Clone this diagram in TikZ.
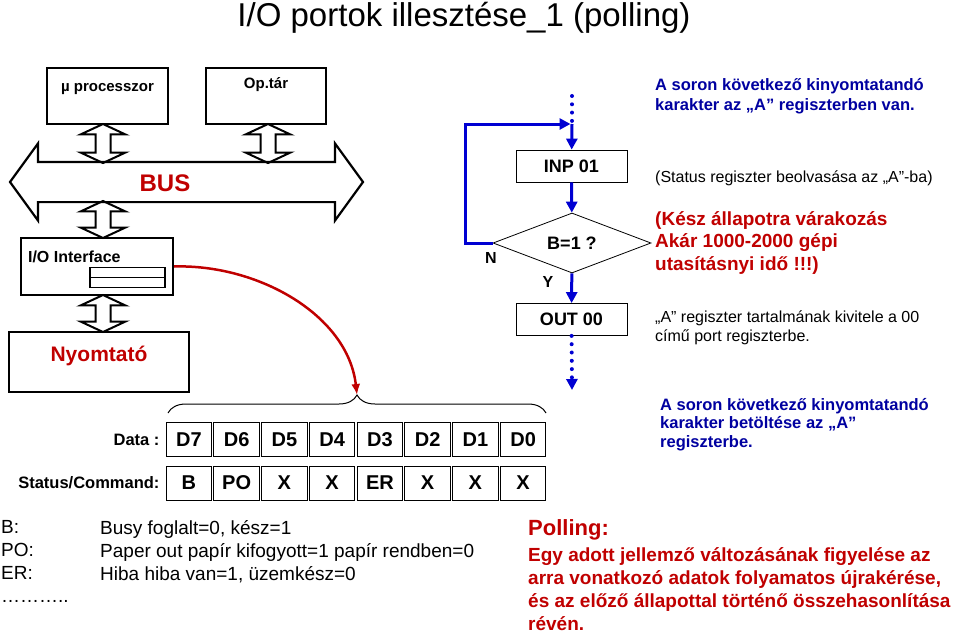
\documentclass[tikz,border=0pt]{standalone}
\usepackage{fontspec}
\setmainfont{Liberation Sans}
\usetikzlibrary{arrows.meta, positioning, shapes.geometric, shapes.arrows, decorations.pathreplacing}
\definecolor{hred}{RGB}{192,0,0}
\definecolor{hblue}{RGB}{0,0,160}
\definecolor{lblue}{RGB}{0,0,210}
\newcommand{\fs}[2]{\fontsize{#1}{#2}\selectfont}

\begin{document}
\begin{tikzpicture}[x=1pt, y=-1pt, >=Latex, font=\fs{16}{19}]
\tikzstyle{bx}=[draw, line width=2.2pt, inner sep=0pt]
\tikzstyle{lbl}=[inner sep=0pt, font=\bfseries\fs{15}{15}]
\tikzstyle{vdarr}=[double arrow, draw, line width=2pt, rotate=90, inner xsep=0pt, inner ysep=6.5pt, double arrow tip angle=130, double arrow head extend=15pt]
\tikzstyle{cell}=[draw, line width=1pt, minimum width=45.5pt, minimum height=34pt, inner sep=0pt, font=\bfseries\fs{20}{20}]
\tikzstyle{fbox}=[draw, line width=0.8pt, minimum width=111pt, minimum height=32pt, inner sep=0pt, font=\bfseries\fs{18}{18}]
\tikzstyle{flow}=[draw=lblue, line width=3pt, -{Triangle[width=11pt,length=11pt]}]
\tikzstyle{dots}=[draw=lblue, line width=4pt, line cap=round, dash pattern=on 0pt off 8.3pt]
\tikzstyle{txt}=[anchor=north west, align=left, inner sep=0pt]

\useasboundingbox (0,0) rectangle (959,637);

\node[anchor=north, inner sep=0pt, font=\fs{33}{33}] (title) at (464,2) {I/O portok illesztése\_1 (polling)};

% boxes on the bus
\node[bx, minimum width=121pt, minimum height=56pt, label={[lbl, anchor=north, yshift=-16pt]north:µ processzor}] (proc) at (107.5,96) {};
\node[bx, minimum width=120pt, minimum height=56pt, label={[lbl, anchor=north, yshift=-10pt]north:Op.tár}] (mem) at (266,96) {};

\node[double arrow, draw, line width=2.2pt, inner xsep=0pt, inner ysep=19pt, double arrow tip angle=108, double arrow head extend=18.5pt, minimum height=353pt] (bus) at (186.5,182) {};
\node[font=\bfseries\fs{24}{24}, text=hred] (buslbl) at (165,183) {BUS};

\node[vdarr, minimum height=39pt] (pa) at (103,143.5) {};
\node[vdarr, minimum height=39pt] (ma) at (268,143.5) {};
\node[vdarr, minimum height=37pt] (ia) at (103,219.5) {};
\node[vdarr, minimum height=37pt] (na) at (103,313.5) {};

\node[bx, minimum width=152pt, minimum height=57pt, label={[lbl, font=\bfseries\fs{16}{16}, anchor=north west, xshift=8pt, yshift=-14pt]north west:I/O Interface}] (io) at (97,266.5) {};
\node[draw, line width=1.3pt, minimum width=75pt, minimum height=10pt, inner sep=0pt, outer sep=0pt] (reg) at (127.5,272.5) {};
\node[draw, line width=1.3pt, minimum width=75pt, minimum height=10pt, inner sep=0pt, outer sep=0pt] (reg2) at (127.5,282.5) {};

\node[bx, minimum width=180pt, minimum height=60pt, label={[lbl, font=\bfseries\fs{21}{21}, text=hred, anchor=north, yshift=-15pt]north:Nyomtató}] (prn) at (99,362) {};

% register bits
\node[anchor=east, font=\bfseries\fs{16.5}{16.5}] (datalbl) at (163,439.5) {Data :};
\node[anchor=east, font=\bfseries\fs{16.5}{16.5}] (statlbl) at (163,483) {Status/Command:};
\foreach \t [count=\i] in {D7,D6,D5,D4,D3,D2,D1,D0}
  \node[cell] (d\i) at (141.15+\i*47.75,439.5) {\t};
\foreach \t [count=\i] in {B,PO,X,X,ER,X,X,X}
  \node[cell] (s\i) at (141.15+\i*47.75,483) {\t};

\coordinate (bl) at (168,413);
\coordinate (br) at (546,413);
\coordinate (btip) at (357,395);
\draw[decorate, decoration={brace, amplitude=18pt}, line width=1pt] (bl) -- (br);
\draw[hred, line width=2.5pt, -{Latex[length=11pt,width=9pt]}] (io.east) .. controls (258,264) and (348,315) .. (btip);

% flowchart
\coordinate (top) at (572,96);
\coordinate (join) at (572,124);
\coordinate (end) at (572,390);
\node[fbox] (inp) at (571.5,166) {INP 01};
\node[diamond, draw, line width=0.8pt, minimum width=158pt, minimum height=60pt, aspect=2.6, inner sep=0pt, font=\bfseries\fs{18}{18}] (dec) at (572,243) {B=1 ?};
\node[fbox] (out) at (571.5,319.5) {OUT 00};
\node[font=\bfseries\fs{16}{16}] (nlbl) at (491,258) {N};
\node[font=\bfseries\fs{16}{16}] (ylbl) at (548,282) {Y};

\draw[dots] (top) -- (join);
\draw[flow] (join) -- (inp);
\draw[flow] (inp) -- (dec);
\draw[flow] (dec) -- (out);
\draw[flow, shorten >=1.5pt] (dec.west) -- ++(-27,0) |- (join);
\draw[dots, -{Triangle[width=11pt,length=11pt]}] (out) -- (end);

% notes on the right
\node[txt, text=hblue, font=\bfseries\fs{16.5}{20}] (note1) at (655,78) {A soron következő kinyomtatandó\\karakter az „A” regiszterben van.};
\node[anchor=west, inner sep=0pt] (note2) at (655,178) {(Status regiszter beolvasása az „A”-ba)};
\node[txt, text=hred, font=\bfseries\fs{19}{22.5}] (note3) at (655,211) {(Kész állapotra várakozás\\Akár 1000-2000 gépi\\utasításnyi idő !!!)};
\node[txt] (note4) at (655,311) {„A” regiszter tartalmának kivitele a 00\\című port regiszterbe.};
\node[txt, text=hblue, font=\bfseries\fs{16.5}{18.5}] (note5) at (660,398) {A soron következő kinyomtatandó\\karakter betöltése az „A”\\regiszterbe.};

% legend
\node[txt, font=\fs{19}{23}] (keys) at (1,520) {B:\\PO:\\ER:\\………..};
\node[txt, font=\fs{19}{23}] (vals) at (100,520) {Busy foglalt=0, kész=1\\Paper out papír kifogyott=1 papír rendben=0\\Hiba hiba van=1, üzemkész=0};

\node[anchor=west, inner sep=0pt, text=hred, font=\bfseries\fs{22}{22}] (poll) at (528,530) {Polling:};
\node[txt, text=hred, font=\bfseries\fs{19}{23}] (polltxt) at (528,547) {Egy adott jellemző változásának figyelése az\\arra vonatkozó adatok folyamatos újrakérése,\\és az előző állapottal történő összehasonlítása\\révén.};
\end{tikzpicture}
\end{document}
